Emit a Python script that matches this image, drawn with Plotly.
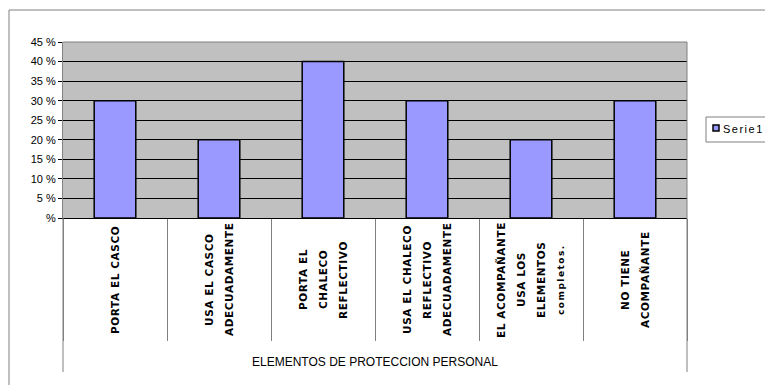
import plotly.graph_objects as go

# ---- data ----
categories = ["PORTA EL CASCO", "USA EL CASCO ADECUADAMENTE", "PORTA EL CHALECO REFLECTIVO",
              "USA EL CHALECO REFLECTIVO ADECUADAMENTE", "EL ACOMPAÑANTE USA LOS ELEMENTOS completos.",
              "NO TIENE ACOMPAÑANTE"]
category_lines = [
    ["PORTA EL CASCO"],
    ["USA EL CASCO", "ADECUADAMENTE"],
    ["PORTA EL", "CHALECO", "REFLECTIVO"],
    ["USA EL CHALECO", "REFLECTIVO", "ADECUADAMENTE"],
    ["EL ACOMPAÑANTE", "USA LOS", "ELEMENTOS", "completos."],
    ["NO TIENE", "ACOMPAÑANTE"],
]
values = [0.30, 0.20, 0.40, 0.30, 0.20, 0.30]
series_name = "Serie1"
group_label = "ELEMENTOS DE PROTECCION PERSONAL"
y_tickvals = [0, 0.05, 0.10, 0.15, 0.20, 0.25, 0.30, 0.35, 0.40, 0.45]
y_ticktext = ["%", "5 %", "10 %", "15 %", "20 %", "25 %", "30 %", "35 %", "40 %", "45 %"]

W, H = 765, 385
L, R, T, B = 63, 78, 42, 167
PW, PH = W - L - R, H - T - B


def px(xp):
    return (xp - L) / PW


def py(yp):
    return (H - B - yp) / PH


GRAY = "#808080"
fig = go.Figure()
fig.add_trace(go.Bar(
    x=categories, y=values, name=series_name,
    marker=dict(color="#9999FF", line=dict(color="black", width=1.5)),
    showlegend=False,
))

annotations = []
for cat, lines in zip(categories, category_lines):
    n = len(lines)
    for j, line in enumerate(lines):
        small = line.islower()
        text = '<span style="letter-spacing:1.5px">' + line + '</span>' if small else \
            '<span style="letter-spacing:0.6px">' + line + '</span>'
        annotations.append(dict(
            x=cat, xref="x", y=py(280), yref="paper",
            text=text, textangle=-90, showarrow=False,
            xshift=(j - (n - 1) / 2) * 20,
            xanchor="center", yanchor="middle",
            font=dict(family="DejaVu Sans", size=9 if small else 10.5, color="black", weight="bold"),
        ))

annotations.append(dict(
    x=0.5, xref="paper", y=py(362), yref="paper", text=group_label, showarrow=False,
    xanchor="center", yanchor="middle",
    font=dict(family="Liberation Sans", size=12, color="black"),
))
annotations.append(dict(
    x=px(721), xref="paper", y=py(129), yref="paper",
    text='<span style="letter-spacing:1.5px">' + series_name + '</span>', showarrow=False,
    xanchor="left", yanchor="middle",
    font=dict(family="Liberation Sans", size=11, color="black"),
))

shapes = [
    # outer chart frame
    dict(type="line", xref="paper", yref="paper", x0=px(9), x1=px(9), y0=py(400), y1=py(10),
         line=dict(color=GRAY, width=1)),
    dict(type="line", xref="paper", yref="paper", x0=px(9), x1=px(800), y0=py(10), y1=py(10),
         line=dict(color=GRAY, width=1)),
    # plot-area border top/right and group lines
    dict(type="line", xref="paper", yref="paper", x0=0, x1=1, y0=1, y1=1,
         line=dict(color=GRAY, width=1), layer="above"),
    dict(type="line", xref="paper", yref="paper", x0=1, x1=1, y0=py(372), y1=1,
         line=dict(color=GRAY, width=1), layer="above"),
    dict(type="line", xref="paper", yref="paper", x0=0, x1=0, y0=py(372), y1=0,
         line=dict(color=GRAY, width=1)),
    # legend box and key
    dict(type="rect", xref="paper", yref="paper", x0=px(706), x1=px(800), y0=py(142), y1=py(117),
         line=dict(color=GRAY, width=1), fillcolor="white", layer="below"),
    dict(type="rect", xref="paper", yref="paper", x0=px(713), x1=px(719), y0=py(131), y1=py(125),
         line=dict(color="black", width=1.5), fillcolor="#9999FF"),
]

fig.update_layout(
    width=W, height=H,
    margin=dict(l=L, r=R, t=T, b=B, pad=0),
    paper_bgcolor="white", plot_bgcolor="#C0C0C0",
    bargap=0.6,
    font=dict(family="Liberation Sans", size=11, color="black"),
    xaxis=dict(
        type="category", tickson="boundaries", ticks="outside", ticklen=122,
        tickcolor=GRAY, tickwidth=1, showticklabels=False, showgrid=False,
        showline=True, linecolor="black", linewidth=1, zeroline=False,
    ),
    yaxis=dict(
        range=[0, 0.45], tickvals=y_tickvals, ticktext=y_ticktext,
        ticks="outside", ticklen=4, tickcolor="black", tickwidth=1,
        showgrid=True, gridcolor="black", gridwidth=1,
        showline=True, linecolor=GRAY, linewidth=1, zeroline=False,
        tickfont=dict(family="Liberation Sans", size=11, color="black"),
    ),
    annotations=annotations,
    shapes=shapes,
)

fig.write_html("out.html")
